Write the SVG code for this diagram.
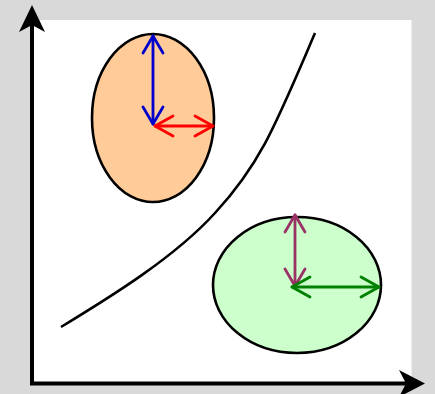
<svg xmlns="http://www.w3.org/2000/svg" width="435" height="394" viewBox="0 0 435 394">
<style>
.ax{stroke:#000;stroke-width:4;fill:none}
.ah{fill:#000;stroke:none}
.el{stroke:#000;stroke-width:2.6}
.ar{fill:none;stroke-width:2.8;stroke-linecap:round;stroke-linejoin:round}
</style>
<rect x="0" y="0" width="435" height="394" fill="#d9d9d9"/>
<rect x="33" y="20" width="378.5" height="363" fill="#ffffff"/>
<g id="curve">
<path d="M61,327 C112,296 175,257 215,213 C261,163 276,124 315,33" fill="none" stroke="#000" stroke-width="2.6"/>
</g>
<g id="ellipse-orange">
<ellipse class="el" cx="153" cy="118" rx="61" ry="84" fill="#ffcc99"/>
</g>
<g id="ellipse-green">
<ellipse class="el" cx="297" cy="285" rx="84" ry="68" fill="#ccffcc"/>
</g>
<g id="connectors">
<g id="axes">
<path class="ax" d="M32,385 V20"/>
<path class="ah" d="M32,5 L45,32 L32,25 L19,32 Z"/>
<path class="ax" d="M30,383.5 H410"/>
<path class="ah" d="M425,383.5 L399,397 L406,383.5 L399,370 Z"/>
</g>
<g stroke="#0000cc" class="ar">
<path d="M153,36 V124"/>
<path d="M143,53 L153,36 L163,53"/>
<path d="M143,107 L153,124 L163,107"/>
</g>
<g stroke="#ff0000" class="ar">
<path d="M155,126 H213"/>
<path d="M173,116 L155,126 L173,136"/>
<path d="M195,116 L213,126 L195,136"/>
</g>
<g stroke="#993366" class="ar">
<path d="M295,215 V286"/>
<path d="M285,232 L295,215 L305,232"/>
<path d="M285,269 L295,286 L305,269"/>
</g>
<g stroke="#008000" class="ar">
<path d="M292,287 H379"/>
<path d="M310,277 L292,287 L310,297"/>
<path d="M361,277 L379,287 L361,297"/>
</g>
</g>
</svg>
